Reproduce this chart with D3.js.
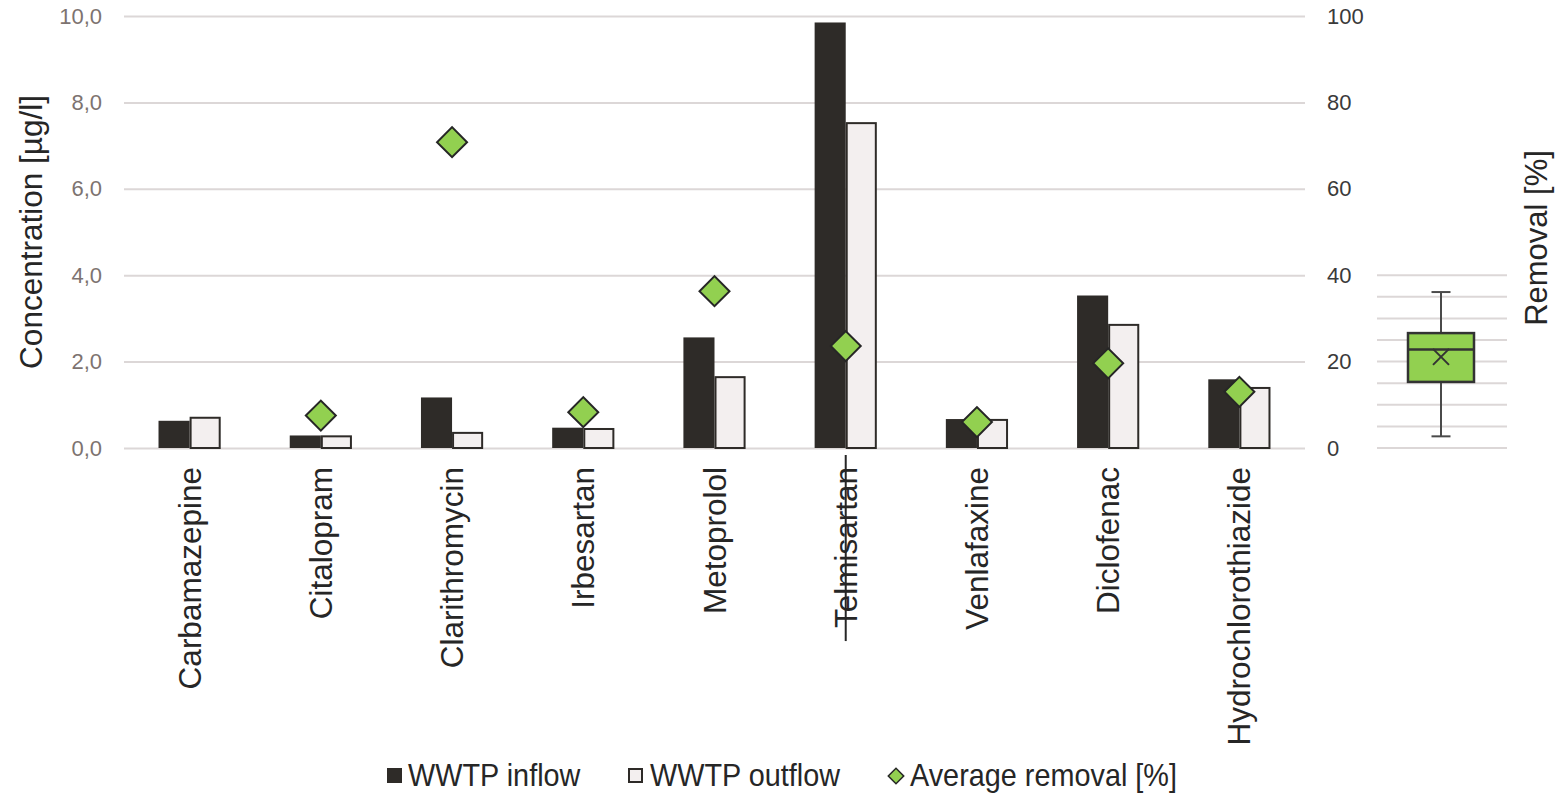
<!DOCTYPE html>
<html><head><meta charset="utf-8">
<script src="https://cdn.jsdelivr.net/npm/d3@7"></script>
<style>
html,body{margin:0;padding:0;background:#fff;}
svg{display:block;font-family:"Liberation Sans",Arial,sans-serif;}
</style></head>
<body>
<svg id="chart" width="1560" height="794"></svg>
<script>
const categories = ["Carbamazepine","Citalopram","Clarithromycin","Irbesartan","Metoprolol","Telmisartan","Venlafaxine","Diclofenac","Hydrochlorothiazide"];
const inflow  = [0.63, 0.29, 1.17, 0.47, 2.56, 9.85, 0.67, 3.53, 1.59];
const outflow = [0.70, 0.27, 0.35, 0.44, 1.64, 7.52, 0.65, 2.85, 1.39];
const removal = [null, 7.5, 70.8, 8.3, 36.3, 23.6, 6.0, 19.6, 13.0];
const struck = ["Telmisartan"];
const leftTicks = [0, 2, 4, 6, 8, 10];
const rightTicks = [0, 20, 40, 60, 80, 100];
const boxTicks = [0, 5, 10, 15, 20, 25, 30, 35, 40];
const boxStats = {min: 2.7, q1: 15.3, median: 22.8, q3: 26.6, max: 36.1, mean: 21.1};
const seriesNames = ["WWTP inflow", "WWTP outflow", "Average removal [%]"];

const svg = d3.select("#chart");
const M = {left: 124, right: 1305, top: 16, bottom: 448};
const locale = d3.formatLocale({decimal: ",", thousands: ".", grouping: [3], currency: ["", ""]});
const fmt1 = locale.format(".1f");

const x = d3.scaleBand().domain(categories).range([M.left, M.right]).padding(0);
const x1 = d3.scaleBand().domain(["in", "out"]).range([0, x.bandwidth()]).paddingInner(0).paddingOuter(1.11);
const y = d3.scaleLinear().domain([0, 10]).range([M.bottom, M.top]);
const yR = d3.scaleLinear().domain([0, 100]).range([M.bottom, M.top]);

const gridCol = "#dcd7d7";
// gridlines
const gGrid = svg.append("g").attr("transform", `translate(${M.left},0)`)
  .call(d3.axisLeft(y).tickValues(leftTicks).tickSize(-(M.right - M.left)).tickFormat(""));
gGrid.select(".domain").remove();
gGrid.selectAll("line").attr("stroke", gridCol).attr("stroke-width", 2);

// left axis labels
const gL = svg.append("g").attr("transform", `translate(102,0)`)
  .call(d3.axisLeft(y).tickValues(leftTicks).tickSize(0).tickPadding(0).tickFormat(fmt1));
gL.select(".domain").remove();
gL.selectAll("text").attr("font-size", 22).attr("fill", "#7d7370").attr("font-family", "Liberation Sans, Arial, sans-serif");

// right axis labels
const gR = svg.append("g").attr("transform", `translate(1327,0)`)
  .call(d3.axisRight(yR).tickValues(rightTicks).tickSize(0).tickPadding(0).tickFormat(d3.format("d")));
gR.select(".domain").remove();
gR.selectAll("text").attr("font-size", 22).attr("fill", "#3a3a3a").attr("font-family", "Liberation Sans, Arial, sans-serif");

// bars
const gBars = svg.append("g");
gBars.selectAll("rect.in").data(categories).join("rect").attr("class", "in")
  .attr("x", d => x(d) + x1("in"))
  .attr("width", x1.bandwidth())
  .attr("y", (d, i) => y(inflow[i]))
  .attr("height", (d, i) => y(0) - y(inflow[i]))
  .attr("fill", "#2e2b28");
gBars.selectAll("rect.out").data(categories).join("rect").attr("class", "out")
  .attr("x", d => x(d) + x1("out") + 1)
  .attr("width", x1.bandwidth() - 2)
  .attr("y", (d, i) => y(outflow[i]))
  .attr("height", (d, i) => y(0) - y(outflow[i]))
  .attr("fill", "#f3efef").attr("stroke", "#2e2b28").attr("stroke-width", 2);

// diamonds
const diamond = d3.symbol().type(d3.symbolSquare).size(450);
svg.append("g").selectAll("path").data(categories.map((c, i) => ({c, v: removal[i]})).filter(d => d.v != null))
  .join("path")
  .attr("d", diamond)
  .attr("transform", d => `translate(${x(d.c) + x.bandwidth() / 2},${yR(d.v)}) rotate(45)`)
  .attr("fill", "#92d050").attr("stroke", "#262626").attr("stroke-width", 2);

// category labels
const gCat = svg.append("g");
categories.forEach(c => {
  const g = gCat.append("g").attr("transform", `translate(${x(c) + x.bandwidth() / 2},467) rotate(-90)`);
  const t = g.append("text").attr("text-anchor", "end").attr("dy", "0.35em")
    .attr("font-size", 31.5).attr("fill", "#262626").text(c);
  if (struck.includes(c)) {
    const w = t.node().getComputedTextLength();
    g.append("line").attr("x1", -w - 13).attr("x2", 12).attr("y1", 0).attr("y2", 0)
      .attr("stroke", "#262626").attr("stroke-width", 2);
  }
});

// axis titles
svg.append("text").attr("transform", `translate(42,${(M.top + M.bottom) / 2}) rotate(-90)`)
  .attr("text-anchor", "middle").attr("font-size", 31.5).attr("fill", "#262626").text("Concentration [µg/l]");
svg.append("text").attr("transform", `translate(1547,238) rotate(-90)`)
  .attr("text-anchor", "middle").attr("font-size", 31).attr("fill", "#262626").text("Removal [%]");

// box plot inset
const bx = {l: 1377, r: 1507, boxL: 1408, boxR: 1474};
const bc = (bx.boxL + bx.boxR) / 2;
const gB = svg.append("g");
gB.selectAll("line.bg").data(boxTicks).join("line").attr("class", "bg")
  .attr("x1", bx.l).attr("x2", bx.r).attr("y1", d => yR(d)).attr("y2", d => yR(d))
  .attr("stroke", gridCol).attr("stroke-width", 2);
const wc = "#4a4a4a";
gB.append("line").attr("x1", bc).attr("x2", bc).attr("y1", yR(boxStats.max)).attr("y2", yR(boxStats.q3)).attr("stroke", wc).attr("stroke-width", 2);
gB.append("line").attr("x1", bc).attr("x2", bc).attr("y1", yR(boxStats.q1)).attr("y2", yR(boxStats.min)).attr("stroke", wc).attr("stroke-width", 2);
[boxStats.max, boxStats.min].forEach(v => gB.append("line").attr("x1", bc - 9.5).attr("x2", bc + 9.5).attr("y1", yR(v)).attr("y2", yR(v)).attr("stroke", wc).attr("stroke-width", 2));
gB.append("rect").attr("x", bx.boxL).attr("width", bx.boxR - bx.boxL)
  .attr("y", yR(boxStats.q3)).attr("height", yR(boxStats.q1) - yR(boxStats.q3))
  .attr("fill", "#92d050").attr("stroke", "#333").attr("stroke-width", 2.5);
gB.append("line").attr("x1", bx.boxL).attr("x2", bx.boxR).attr("y1", yR(boxStats.median)).attr("y2", yR(boxStats.median)).attr("stroke", "#333").attr("stroke-width", 2.5);
const my = yR(boxStats.mean);
gB.append("path").attr("d", `M${bc - 8},${my - 8}L${bc + 8},${my + 8}M${bc - 8},${my + 8}L${bc + 8},${my - 8}`)
  .attr("stroke", "#333").attr("stroke-width", 2).attr("fill", "none");

// legend
const leg = svg.append("g");
const items = [
  {name: seriesNames[0], sx: 387, tx: 408, type: "in"},
  {name: seriesNames[1], sx: 628, tx: 650, type: "out"},
  {name: seriesNames[2], sx: 888, tx: 910, type: "dia"}
];
items.forEach(it => {
  if (it.type === "in") {
    leg.append("rect").attr("x", it.sx).attr("y", 768).attr("width", 15).attr("height", 15).attr("fill", "#2e2b28");
  } else if (it.type === "out") {
    leg.append("rect").attr("x", it.sx + 1).attr("y", 769).attr("width", 13).attr("height", 13).attr("fill", "#f3efef").attr("stroke", "#2e2b28").attr("stroke-width", 2);
  } else {
    leg.append("path").attr("d", d3.symbol().type(d3.symbolSquare).size(120)())
      .attr("transform", `translate(${it.sx + 8},776) rotate(45)`)
      .attr("fill", "#92d050").attr("stroke", "#262626").attr("stroke-width", 1.5);
  }
  leg.append("text").attr("transform", `translate(${it.tx},786) scale(0.93,1)`)
    .attr("font-size", 31).attr("fill", "#262626").text(it.name);
});
</script>
</body></html>
